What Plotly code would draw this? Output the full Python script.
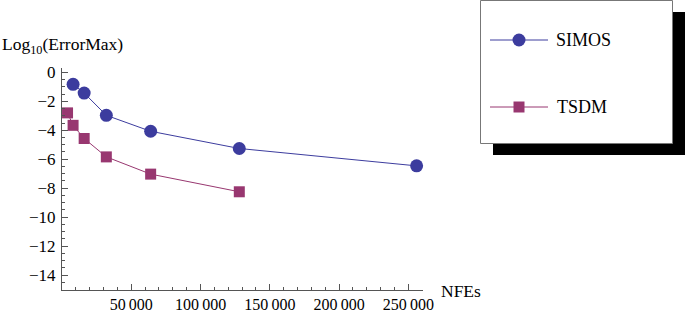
import plotly.graph_objects as go

# ---- data ----
simos_nfes = [8000, 16000, 32000, 64000, 128000, 256000]
simos_err = [-0.83, -1.43, -2.97, -4.07, -5.26, -6.46]
tsdm_nfes = [4000, 8000, 16000, 32000, 64000, 128000]
tsdm_err = [-2.8, -3.66, -4.57, -5.84, -7.03, -8.25]

x_tick_vals = [50000, 100000, 150000, 200000, 250000]
x_tick_text = ["50\u2009000", "100\u2009000", "150\u2009000", "200\u2009000", "250\u2009000"]
y_tick_vals = [0, -2, -4, -6, -8, -10, -12, -14]
y_tick_text = ["0", "\u22122", "\u22124", "\u22126", "\u22128", "\u221210", "\u221212", "\u221214"]

BLUE = "rgb(60,60,158)"
MAG = "rgb(152,55,112)"
FONT = "Liberation Serif"
W, H = 685, 312

fig = go.Figure()
fig.add_trace(go.Scatter(x=simos_nfes, y=simos_err, mode="lines+markers", name="SIMOS",
                         line=dict(color=BLUE, width=1),
                         marker=dict(symbol="circle", size=13, color=BLUE),
                         xaxis="x", yaxis="y", cliponaxis=False))
fig.add_trace(go.Scatter(x=tsdm_nfes, y=tsdm_err, mode="lines+markers", name="TSDM",
                         line=dict(color=MAG, width=1),
                         marker=dict(symbol="square", size=11, color=MAG),
                         xaxis="x", yaxis="y", cliponaxis=False))

# legend samples on a pixel-space overlay axis
fig.add_trace(go.Scatter(x=[490, 519, 548], y=[40, 40, 40], mode="lines",
                         line=dict(color=BLUE, width=1), xaxis="x2", yaxis="y2",
                         hoverinfo="skip"))
fig.add_trace(go.Scatter(x=[519], y=[40], mode="markers",
                         marker=dict(symbol="circle", size=13, color=BLUE),
                         xaxis="x2", yaxis="y2", hoverinfo="skip"))
fig.add_trace(go.Scatter(x=[490, 519, 548], y=[107, 107, 107], mode="lines",
                         line=dict(color=MAG, width=1), xaxis="x2", yaxis="y2",
                         hoverinfo="skip"))
fig.add_trace(go.Scatter(x=[519], y=[107], mode="markers",
                         marker=dict(symbol="square", size=11, color=MAG),
                         xaxis="x2", yaxis="y2", hoverinfo="skip"))

x0, x1 = 62 / W, 422.7 / W
y1, y0 = 1 - 68 / H, 1 - 289.5 / H

axis_common = dict(showgrid=False, zeroline=False, showline=True, linecolor="#555",
                   linewidth=1, ticks="inside", tickcolor="#555", tickwidth=1,
                   automargin=False)

fig.update_layout(
    template="none",
    width=W, height=H, margin=dict(l=0, r=0, t=0, b=0, pad=0, autoexpand=False),
    autosize=False,
    paper_bgcolor="white", plot_bgcolor="rgba(0,0,0,0)", showlegend=False,
    xaxis=dict(domain=[x0, x1], range=[0, 260400], tickvals=x_tick_vals,
               ticktext=x_tick_text, ticklen=6,
               tickfont=dict(family=FONT, size=16, color="black"),
               minor=dict(dtick=10000, tick0=0, ticklen=3, ticks="inside", tickcolor="#555"),
               anchor="y", **axis_common),
    yaxis=dict(domain=[y0, y1], range=[-15, 0.3], tickvals=y_tick_vals,
               ticktext=y_tick_text, ticklen=6, ticklabelstandoff=2,
               tickfont=dict(family=FONT, size=17, color="black"),
               minor=dict(dtick=0.5, tick0=0, ticklen=3, ticks="inside", tickcolor="#555"),
               anchor="x", **axis_common),
    xaxis2=dict(domain=[0, 1], range=[0, W], visible=False, anchor="y2", automargin=False),
    yaxis2=dict(domain=[0, 1], range=[H, 0], visible=False, anchor="x2", automargin=False),
    shapes=[
        dict(type="rect", xref="x2", yref="y2", x0=493, x1=685, y0=12, y1=155,
             fillcolor="black", line=dict(width=0), layer="below"),
        dict(type="rect", xref="x2", yref="y2", x0=480.5, x1=672.5, y0=0.5, y1=143.5,
             fillcolor="white", line=dict(color="#777", width=1), layer="below"),
    ],
    annotations=[
        dict(text="Log<sub>10</sub>(ErrorMax)", xref="x2", yref="y2", x=0, y=45,
             xanchor="left", yanchor="middle", showarrow=False,
             font=dict(family=FONT, size=17.5, color="black")),
        dict(text="NFEs", xref="x2", yref="y2", x=439, y=291,
             xanchor="left", yanchor="middle", showarrow=False,
             font=dict(family=FONT, size=17.5, color="black")),
        dict(text="SIMOS", xref="x2", yref="y2", x=554, y=40,
             xanchor="left", yanchor="middle", showarrow=False,
             font=dict(family=FONT, size=18, color="black")),
        dict(text="TSDM", xref="x2", yref="y2", x=555, y=107,
             xanchor="left", yanchor="middle", showarrow=False,
             font=dict(family=FONT, size=18, color="black")),
    ],
)

fig.write_html("out.html", config={"displayModeBar": False},
               post_script="document.body.style.margin='0';document.body.style.overflow='hidden';")
